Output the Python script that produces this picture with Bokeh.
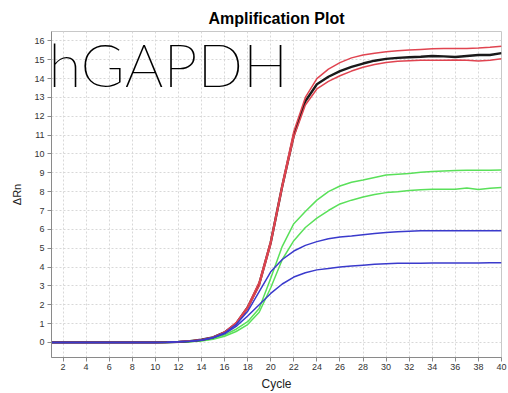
from bokeh.plotting import figure
from bokeh.models import FixedTicker, Label
from bokeh.embed import file_html
from bokeh.resources import INLINE

cycles = list(range(1, 41))
base = [0.0] * 10

red_hi = base + [0.01, 0.03, 0.07, 0.14, 0.28, 0.55, 1.05, 1.9, 3.2, 5.4,
                 8.4, 11.2, 13.0, 14.0, 14.5, 14.85, 15.1, 15.25, 15.35, 15.42,
                 15.48, 15.52, 15.55, 15.58, 15.6, 15.6, 15.6, 15.62, 15.66, 15.72]
black = base + [0.01, 0.03, 0.07, 0.14, 0.27, 0.53, 1.0, 1.85, 3.1, 5.3,
                8.3, 11.0, 12.8, 13.7, 14.1, 14.4, 14.62, 14.8, 14.95, 15.05,
                15.1, 15.13, 15.16, 15.2, 15.18, 15.15, 15.2, 15.25, 15.25, 15.35]
red_lo = base + [0.01, 0.03, 0.07, 0.13, 0.26, 0.52, 1.0, 1.8, 3.0, 5.2,
                 8.2, 10.9, 12.6, 13.45, 13.85, 14.15, 14.4, 14.6, 14.75, 14.85,
                 14.92, 14.95, 14.97, 14.98, 14.98, 14.99, 14.98, 14.93, 14.98, 15.05]
green_hi = base + [0.01, 0.02, 0.05, 0.1, 0.2, 0.4, 0.7, 1.1, 1.8, 3.4,
                   5.1, 6.3, 6.95, 7.55, 8.0, 8.3, 8.5, 8.62, 8.75, 8.88,
                   8.93, 8.97, 9.03, 9.07, 9.1, 9.13, 9.14, 9.14, 9.14, 9.15]
green_lo = base + [0.01, 0.02, 0.04, 0.08, 0.17, 0.33, 0.58, 0.95, 1.6, 2.9,
                   4.4, 5.4, 6.1, 6.6, 7.0, 7.35, 7.55, 7.72, 7.85, 7.95,
                   8.0, 8.06, 8.1, 8.13, 8.13, 8.13, 8.2, 8.12, 8.18, 8.22]
blue_hi = base + [0.01, 0.03, 0.06, 0.13, 0.26, 0.5, 0.95, 1.65, 2.7, 3.75,
                  4.4, 4.85, 5.15, 5.35, 5.5, 5.6, 5.65, 5.72, 5.78, 5.83,
                  5.87, 5.9, 5.92, 5.92, 5.92, 5.92, 5.92, 5.93, 5.93, 5.93]
blue_lo = base + [0.01, 0.03, 0.06, 0.12, 0.24, 0.46, 0.85, 1.4, 2.0, 2.6,
                  3.1, 3.47, 3.7, 3.85, 3.92, 4.0, 4.05, 4.1, 4.15, 4.18,
                  4.2, 4.2, 4.2, 4.21, 4.21, 4.21, 4.22, 4.22, 4.23, 4.23]

x_ticks = list(range(2, 41, 2))
y_ticks = list(range(0, 17))

p = figure(width=508, height=393, output_backend="svg", toolbar_location=None,
           x_range=(1, 40), y_range=(-0.8, 16.5),
           title="Amplification Plot",
           min_border_left=51, min_border_right=7, min_border_top=31, min_border_bottom=36)

p.title.align = "center"
p.title.text_font = "Liberation Sans"
p.title.text_font_size = "16px"
p.title.text_font_style = "bold"
p.title.text_color = "#000000"
p.title.standoff = 9

p.outline_line_color = "#c8c8c8"
p.background_fill_color = "#ffffff"
p.border_fill_color = "#ffffff"

p.xaxis.ticker = FixedTicker(ticks=x_ticks)
p.yaxis.ticker = FixedTicker(ticks=y_ticks)
for ax in (p.xaxis, p.yaxis):
    ax.axis_line_color = "#8a8a8a"
    ax.major_tick_line_color = "#8a8a8a"
    ax.major_tick_out = 4
    ax.major_tick_in = 0
    ax.minor_tick_line_color = None
    ax.major_label_text_font = "Liberation Sans"
    ax.major_label_text_font_size = "9px"
    ax.major_label_text_color = "#333333"
    ax.axis_label_text_font = "Liberation Sans"
    ax.axis_label_text_font_style = "normal"
    ax.axis_label_text_color = "#222222"
p.xaxis.major_label_standoff = 2
p.yaxis.major_label_standoff = 3
p.xaxis.axis_label = "Cycle"
p.xaxis.axis_label_text_font_size = "12px"
p.xaxis.axis_label_standoff = 4
p.yaxis.axis_label = "ΔRn"
p.yaxis.axis_label_text_font_size = "11px"
p.yaxis.axis_label_standoff = 8

for g in (p.xgrid, p.ygrid):
    g.grid_line_color = "#d8d8d8"
    g.grid_line_dash = "2 2"
    g.grid_line_width = 1

p.line(cycles, green_hi, line_color="#5ae05a", line_width=1.5)
p.line(cycles, green_lo, line_color="#5ae05a", line_width=1.5)
p.line(cycles, black, line_color="#1a1a1a", line_width=2.4)
p.line(cycles, red_hi, line_color="#e04450", line_width=1.5)
p.line(cycles, red_lo, line_color="#e04450", line_width=1.5)
p.line(cycles, blue_hi, line_color="#3a3acc", line_width=1.5)
p.line(cycles, blue_lo, line_color="#3a3acc", line_width=1.5)

lbl = Label(x=0.75, y=14.75, text="hGAPDH",
            text_font="'Lato Thin', 'Lato Hairline', 'Lato Light', Lato",
            text_font_size="60px", text_color="#000000", text_baseline="alphabetic")
p.add_layout(lbl)

open("out.html", "w").write(file_html(p, INLINE))
